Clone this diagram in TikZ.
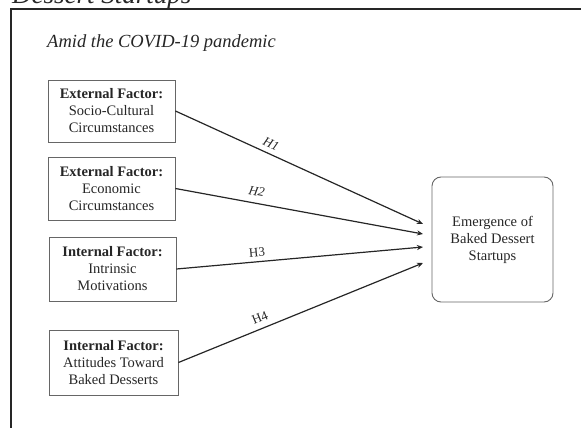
\documentclass[tikz,border=0pt]{standalone}
\usepackage{fontspec}
\setmainfont{Liberation Serif}
\usetikzlibrary{arrows.meta}
\begin{document}
\begin{tikzpicture}[x=1pt,y=-1pt,
  factorbox/.style={draw=black!60, line width=0.9pt, align=center, inner sep=0pt,
    font=\fontsize{14.5}{17}\selectfont, text=black!85},
  link/.style={draw=black!85, line width=1.2pt, -{Stealth[length=6pt,width=5pt]}},
  hlabel/.style={font=\fontsize{13}{15}\selectfont, text=black!85, sloped, above, inner sep=1pt}
]
\useasboundingbox (0,0) rectangle (581,428);
\begin{scope}
\clip (0,0) rectangle (581,428);
\node[anchor=base west, inner sep=0pt, font=\itshape\fontsize{27}{30}\selectfont, text=black!85] (cap) at (12,4) {Dessert Startups};
\end{scope}
\coordinate (fl) at (11,428);
\coordinate (ft) at (11,9);
\coordinate (fr) at (581,9);
\draw[black!85, line width=1.5pt] (fl) -- (ft) -- (fr);
\node[anchor=west, inner sep=0pt, font=\itshape\fontsize{18.5}{21}\selectfont, text=black!85] (title) at (47,43) {Amid the COVID-19 pandemic};

\node[factorbox, minimum width=127pt, minimum height=62pt] (b1) at (111.5,111) {\textbf{External Factor:}\\Socio-Cultural\\Circumstances};
\node[factorbox, minimum width=127pt, minimum height=63pt] (b2) at (111.5,188.5) {\textbf{External Factor:}\\Economic\\Circumstances};
\node[factorbox, minimum width=127pt, minimum height=64pt] (b3) at (112.5,269) {\textbf{Internal Factor:}\\Intrinsic\\Motivations};
\node[factorbox, minimum width=129pt, minimum height=65pt] (b4) at (113.5,362.5) {\textbf{Internal Factor:}\\Attitudes Toward\\Baked Desserts};
\node[factorbox, rounded corners=9pt, minimum width=121pt, minimum height=125pt] (out) at (492.5,239.5) {Emergence of\\Baked Dessert\\Startups};

\coordinate (t1) at (423,224);
\coordinate (t2) at (423,234);
\coordinate (t3) at (423,247);
\coordinate (t4) at (423,263);

\draw[link] (b1.east) -- node[hlabel, pos=0.37, font=\itshape\fontsize{13}{15}\selectfont, yshift=4pt] (h1) {H1} (t1);
\draw[link] (b2.east) -- node[hlabel, pos=0.32, font=\itshape\fontsize{13}{15}\selectfont, yshift=6pt] (h2) {H2} (t2);
\draw[link] (b3.east) -- node[hlabel, pos=0.33, yshift=3pt] (h3) {H3} (t3);
\draw[link] (b4.east) -- node[hlabel, pos=0.35, yshift=5pt] (h4) {H4} (t4);
\end{tikzpicture}
\end{document}
